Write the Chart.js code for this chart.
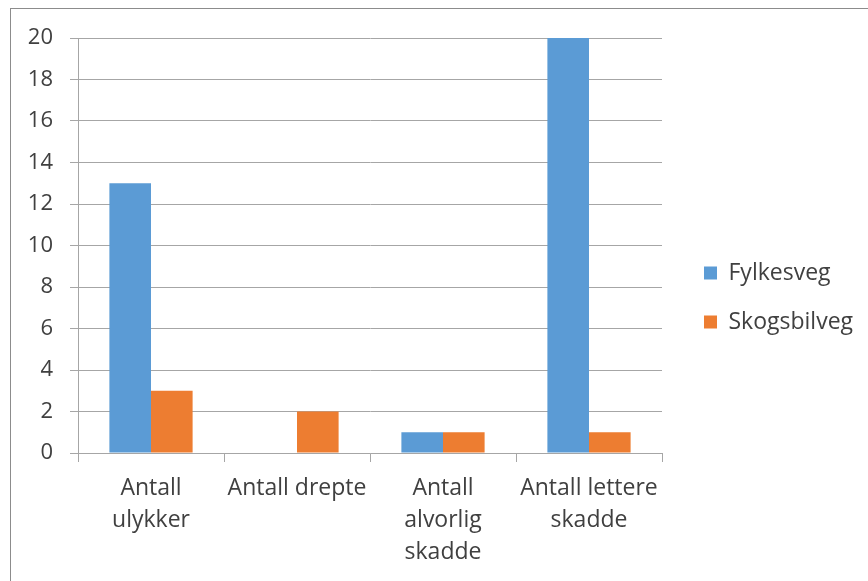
<!DOCTYPE html>
<html>
<head>
<meta charset="utf-8">
<script src="https://cdn.jsdelivr.net/npm/chart.js@4.4.1/dist/chart.umd.min.js"></script>
<style>
  html, body { margin: 0; padding: 0; background: #ffffff; }
  #wrap { position: relative; width: 868px; height: 581px; overflow: hidden; }
  #frame { position: absolute; left: 10px; top: 8px; width: 900px; height: 620px; border: 1px solid #8c8c8c; box-sizing: border-box; }
  #c { position: absolute; left: 0; top: 0; }
</style>
</head>
<body>
<div id="wrap">
  <div id="frame"></div>
  <canvas id="c" width="868" height="581"></canvas>
</div>
<script>
const categories = [["Antall", "ulykker"], "Antall drepte", ["Antall", "alvorlig", "skadde"], ["Antall lettere", "skadde"]];
const seriesNames = ["Fylkesveg", "Skogsbilveg"];
const fylkesveg = [13, 0, 1, 20];
const skogsbilveg = [3, 2, 1, 1];
const yTicks = [0, 2, 4, 6, 8, 10, 12, 14, 16, 18, 20];

const FONT = "'Open Sans', 'Liberation Sans', sans-serif";
const TEXT = '#404040';
const GRID = '#a6a6a6';
const LEG_SIZE = 23, LEG_PAD = 26, LEG_BOX = 13;
const PAD_LEFT = -300;           // widens the layout budget so the legend is not capped
const PLOT_LEFT = 78, LEGEND_LEFT = 678;

// size the legend box so it starts just right of the plot area
const mctx = document.createElement('canvas').getContext('2d');
mctx.font = LEG_SIZE + 'px ' + FONT;
const maxTextW = Math.max(...seriesNames.map(n => mctx.measureText(n).width));
const legendW = LEG_PAD + LEG_BOX + LEG_SIZE / 2 + maxTextW + 10;
const padRight = Math.max(0, 868 - LEGEND_LEFT - legendW);

new Chart(document.getElementById('c'), {
  type: 'bar',
  data: {
    labels: categories,
    datasets: [
      { label: seriesNames[0], data: fylkesveg, backgroundColor: '#5B9BD5', borderWidth: 0 },
      { label: seriesNames[1], data: skogsbilveg, backgroundColor: '#ED7D31', borderWidth: 0 }
    ]
  },
  options: {
    responsive: false,
    animation: false,
    devicePixelRatio: 1,
    layout: { padding: { left: PAD_LEFT, top: 14, right: padRight, bottom: 0 } },
    datasets: { bar: { barPercentage: 1.0, categoryPercentage: 0.57 } },
    plugins: {
      tooltip: { enabled: false },
      legend: {
        position: 'right',
        align: 'center',
        labels: {
          boxWidth: LEG_BOX,
          boxHeight: LEG_BOX,
          padding: LEG_PAD,
          color: TEXT,
          font: { family: FONT, size: LEG_SIZE }
        }
      }
    },
    scales: {
      x: {
        grid: { display: true, drawOnChartArea: false, drawTicks: true, tickLength: 9, color: GRID },
        border: { display: true, color: GRID, width: 1 },
        ticks: { color: TEXT, padding: 10, maxRotation: 0, autoSkip: false, font: { family: FONT, size: 23, lineHeight: 32 / 23 } },
        afterFit: (s) => { s.height = 128; }
      },
      y: {
        min: yTicks[0],
        max: yTicks[yTicks.length - 1],
        afterBuildTicks: (s) => { s.ticks = yTicks.map(v => ({ value: v })); },
        grid: { color: GRID, tickLength: 8, drawTicks: true },
        border: { display: true, color: GRID, width: 1 },
        ticks: { color: TEXT, padding: 17, font: { family: FONT, size: 22 } },
        afterFit: (s) => { s.width = PLOT_LEFT - PAD_LEFT; }
      },
      gap: {
        type: 'linear',
        position: 'right',
        display: true,
        grid: { display: false },
        border: { display: false },
        ticks: { display: false },
        afterFit: (s) => { s.width = 16; }
      },
      gapTop: {
        type: 'linear',
        position: 'top',
        display: true,
        grid: { display: false },
        border: { display: false },
        ticks: { display: false },
        afterFit: (s) => { s.height = 24; }
      }
    }
  }
});
</script>
</body>
</html>
